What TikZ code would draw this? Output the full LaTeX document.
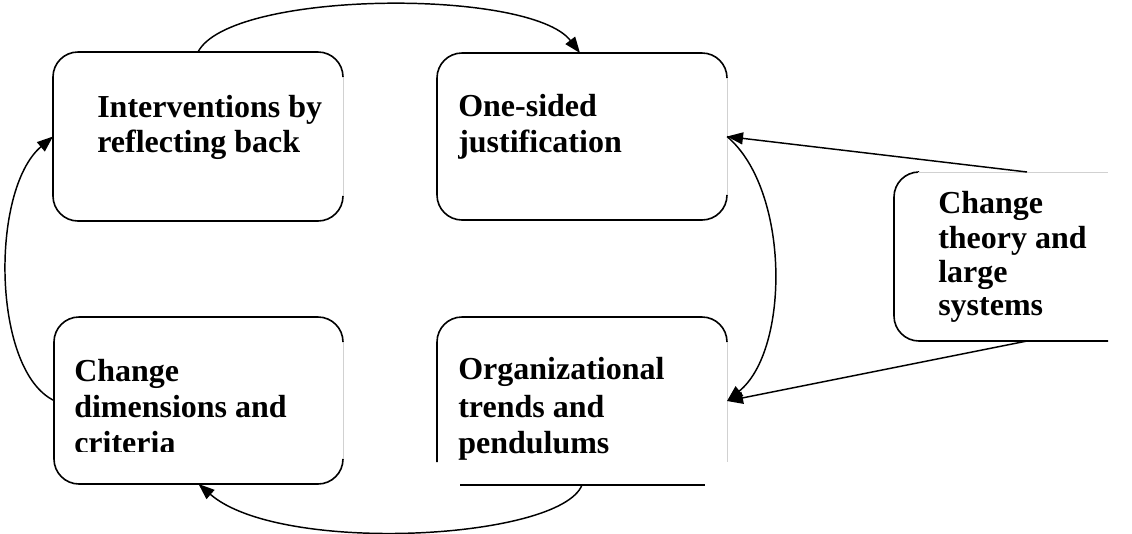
\documentclass[tikz,border=0pt]{standalone}
\usepackage{fontspec}
\setmainfont{Liberation Serif}
\usetikzlibrary{arrows.meta,calc}
\tikzset{
  area/.style={rectangle, draw=none, inner sep=0pt, outer sep=0pt},
  edge/.style={draw=black, line width=1.2pt, rounded corners=18.75pt},
  faint/.style={draw=black!18, line width=0.6pt},
  conn/.style={draw=black, line width=1.1pt, -{Triangle[length=12pt,width=9pt]}},
  lbl/.style={anchor=base west, inner sep=0pt, font=\bfseries\fontsize{24}{27}\selectfont}
}
\begin{document}
\begin{tikzpicture}[x=0.75pt, y=-0.75pt]
\useasboundingbox (0,0) rectangle (1132,533);

% box areas
\node[area, minimum width=217.5pt, minimum height=126.75pt] (b1) at (198,136.5) {};
\node[area, minimum width=217.5pt, minimum height=125.25pt] (b2) at (582,136.5) {};
\node[area, minimum width=216.75pt, minimum height=125.25pt] (b3) at (198.5,400.5) {};
\node[area, minimum width=217.5pt, minimum height=126pt] (b4) at (582,401) {};
\node[area, minimum width=160.5pt, minimum height=126.75pt] (b5) at (1001,256.5) {};

% box 1 border
\draw[edge] ($(b1.north east)+(0,25)$) -- (b1.north east) -- (b1.north west) -- (b1.south west) -- (b1.south east) -- ($(b1.south east)+(0,-25)$);
\draw[faint] ($(b1.north east)+(0,25)$) -- ($(b1.south east)+(0,-25)$);
% box 2 border
\draw[edge] ($(b2.north east)+(0,25)$) -- (b2.north east) -- (b2.north west) -- (b2.south west) -- (b2.south east) -- ($(b2.south east)+(0,-25)$);
\draw[faint] ($(b2.north east)+(0,25)$) -- ($(b2.south east)+(0,-25)$);
% box 3 border
\draw[edge] ($(b3.north east)+(0,25)$) -- (b3.north east) -- (b3.north west) -- (b3.south west) -- (b3.south east) -- ($(b3.south east)+(0,-25)$);
\draw[faint] ($(b3.north east)+(0,25)$) -- ($(b3.south east)+(0,-25)$);
% box 4 border (partly hidden)
\draw[edge] ($(b4.north west)+(0,145)$) -- (b4.north west) -- (b4.north east) -- ($(b4.north east)+(0,25)$);
\draw[faint] ($(b4.north east)+(0,25)$) -- ($(b4.north east)+(0,145)$);
\draw[line width=1.2pt] ($(b4.south west)+(23,0)$) -- ($(b4.south east)+(-22,0)$);
% box 5 border (open on the right)
\draw[edge] ($(b5.north west)+(24,0)$) -- (b5.north west) -- (b5.south west) -- (b5.south east);
\draw[faint] ($(b5.north west)+(24,0)$) -- (b5.north east);

% texts
\node[lbl] (t1a) at (97,117) {Interventions by};
\node[lbl] (t1b) at (97,152) {reflecting back};
\node[lbl] (t2a) at (458,116) {One-sided};
\node[lbl] (t2b) at (458,152) {justification};
\node[lbl] (t3a) at (74,381) {Change};
\node[lbl] (t3b) at (74,417) {dimensions and};
\begin{scope}
\clip (60,420) rectangle (330,451.5);
\node[lbl] (t3c) at (74,453) {criteria};
\end{scope}
\node[lbl] (t4a) at (458,379) {Organizational};
\node[lbl] (t4b) at (458,417) {trends and};
\node[lbl] (t4c) at (458,453) {pendulums};
\node[lbl] (t5a) at (938,213) {Change};
\node[lbl] (t5b) at (938,248) {theory and};
\node[lbl] (t5c) at (938,282) {large};
\node[lbl] (t5d) at (938,315) {systems};

% connectors
\coordinate (c1s) at ($(b1.north west)+(145,0)$);
\coordinate (c1e) at ($(b2.north west)+(143,0)$);
\draw[conn] (c1s) .. controls +(32,-62) and +(-50,-65) .. (c1e);
\draw[conn] (b3.west) .. controls +(-62,-30) and +(-63,53.5) .. (b1.west);
\draw[conn] (b4.south) .. controls +(-22,55) and +(81.5,71) .. (b3.south);
\draw[conn] (b2.east) .. controls +(63,53) and +(63,-51) .. (b4.east);
\coordinate (c5s) at ($(b5.north west)+(133,0)$);
\coordinate (c6s) at ($(b5.south west)+(133,0)$);
\draw[conn] (c5s) -- (b2.east);
\draw[conn] (c6s) -- (b4.east);
\end{tikzpicture}
\end{document}
